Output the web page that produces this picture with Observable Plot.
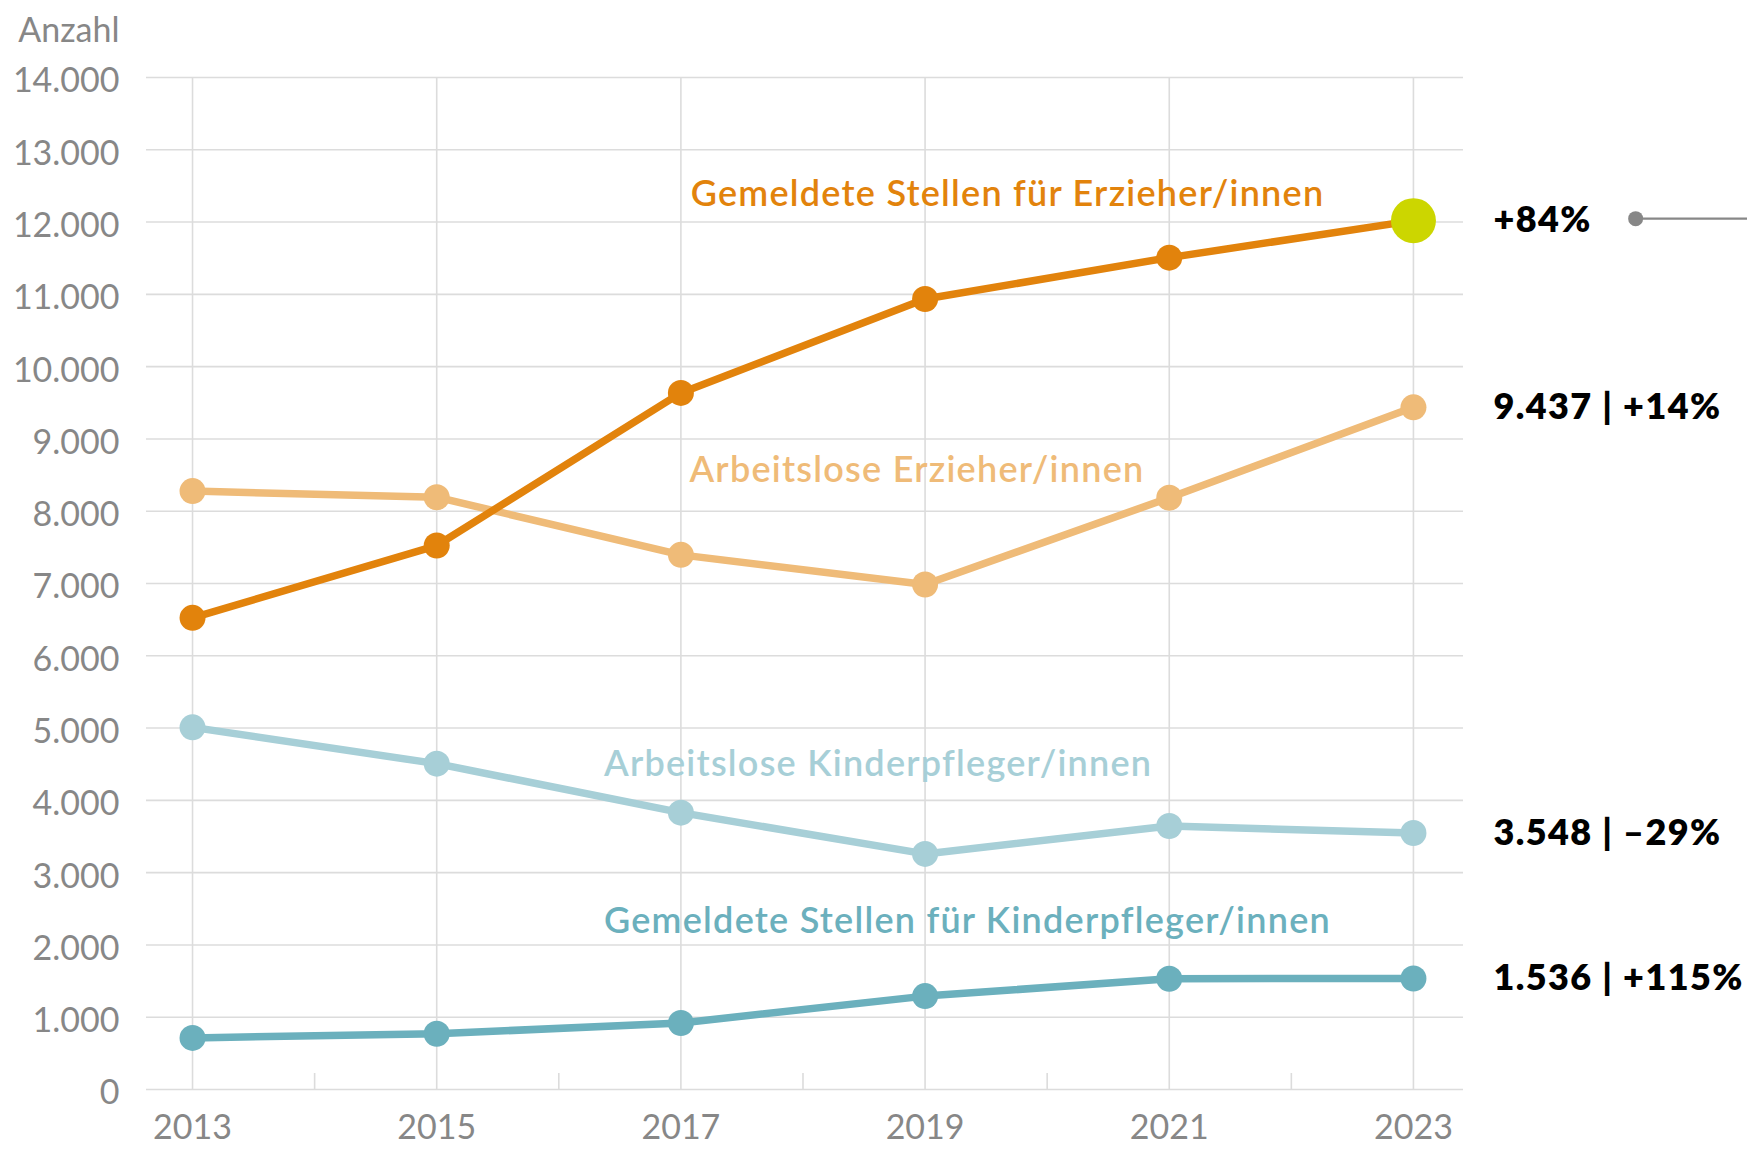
<!DOCTYPE html>
<html>
<head>
<meta charset="utf-8">
<script src="https://cdn.jsdelivr.net/npm/d3@7"></script>
<script src="https://cdn.jsdelivr.net/npm/@observablehq/plot@0.6"></script>
<style>
html, body { margin: 0; padding: 0; background: #fff; overflow: hidden; }
#chart svg { display: block; }
</style>
</head>
<body>
<div id="chart"></div>
<script>
// ---- Data ----
const years = [2013, 2015, 2017, 2019, 2021, 2023];
const stellenErzieher          = [6525, 7525, 9637, 10935, 11508, 12020];
const arbeitsloseErzieher      = [8278, 8194, 7396, 6986, 8186, 9437];
const arbeitsloseKinderpfleger = [5010, 4508, 3830, 3259, 3645, 3548];
const stellenKinderpfleger     = [714, 771, 920, 1292, 1533, 1536];

const seriesNames = [
  "Arbeitslose Erzieher/innen",
  "Arbeitslose Kinderpfleger/innen",
  "Gemeldete Stellen für Kinderpfleger/innen",
  "Gemeldete Stellen für Erzieher/innen"
];
const endLabels = ["9.437 | +14%", "3.548 | –29%", "1.536 | +115%", "+84%"];
// label anchors in data space (year, value)
const labelYear  = [2017.07, 2016.37, 2016.37, 2017.08];
const labelValue = [8570, 4499, 2327, 12384];

const yTicks = d3.range(0, 14001, 1000);
const xTicks = years;
const minorYears = [2014, 2016, 2018, 2020, 2022];
const yAxisLabel = "Anzahl";

// ---- Styles ----
const colors = ["#EFBB78", "#A7CFD7", "#6BB0BD", "#E2830C"];
const highlight = "#CCD600";
const grey = "#878787";
const gridColor = "#DCDCDC";
const font = "Lato, 'Source Sans Pro', sans-serif";

const values = [arbeitsloseErzieher, arbeitsloseKinderpfleger, stellenKinderpfleger, stellenErzieher];
const seriesData = values.map((vals, s) =>
  years.map((year, i) => ({ year, value: vals[i], series: seriesNames[s] }))
);

const fmt = d3.formatLocale({ decimal: ",", thousands: ".", grouping: [3], currency: ["", "€"] }).format(",d");

const marks = [];
// grid
marks.push(Plot.ruleY(yTicks, { stroke: gridColor, strokeWidth: 1.6 }));
marks.push(Plot.ruleX(xTicks, { stroke: gridColor, strokeWidth: 1.6 }));
marks.push(Plot.ruleX(minorYears, { y1: 0, y2: 0, insetTop: -16, stroke: gridColor, strokeWidth: 1.6 }));
// axes
marks.push(Plot.axisY(yTicks, {
  label: null, tickSize: 0, tickPadding: 27, tickFormat: fmt, color: grey,
  fontSize: 34, fontFamily: font, dy: 4
}));
marks.push(Plot.axisX(xTicks, {
  label: null, tickSize: 0, tickPadding: 25, tickFormat: d => String(d), color: grey,
  fontSize: 34, fontFamily: font
}));
marks.push(Plot.text([yAxisLabel], {
  frameAnchor: "top-left", text: d => d, textAnchor: "end", lineAnchor: "middle",
  dx: -27, dy: -46, fill: grey, fontSize: 34, fontFamily: font
}));
// lines and dots
seriesData.forEach((data, s) => {
  marks.push(Plot.line(data, { x: "year", y: "value", stroke: colors[s], strokeWidth: 7.5, strokeLinejoin: "round" }));
  marks.push(Plot.dot(data, { x: "year", y: "value", fill: colors[s], r: 13 }));
});
// highlight last point of Gemeldete Stellen für Erzieher/innen
marks.push(Plot.dot([{ year: years[years.length - 1], value: stellenErzieher[stellenErzieher.length - 1] }],
  { x: "year", y: "value", fill: highlight, r: 22.5 }));
// series labels
marks.push(Plot.text(seriesNames.map((name, i) => ({ name, year: labelYear[i], value: labelValue[i], color: colors[i] })), {
  x: "year", y: "value", text: "name", fill: d => d.color, textAnchor: "start", lineAnchor: "middle",
  fontSize: 36, fontWeight: 600, fontFamily: font
}));
// end labels
marks.push(Plot.text(endLabels.map((t, i) => ({ t, year: years[years.length - 1], value: values[i][values[i].length - 1] })), {
  x: "year", y: "value", text: "t", fill: "#000", textAnchor: "start", lineAnchor: "middle",
  dx: 80, fontSize: 36, fontWeight: 800, fontFamily: font
}));
// grey pointer
const pointerValue = stellenErzieher[stellenErzieher.length - 1];
marks.push(Plot.ruleY([pointerValue], { x1: 2024.82, x2: 2025.8, stroke: grey, strokeWidth: 2.2, dy: -2 }));
marks.push(Plot.dot([pointerValue], { x: () => 2024.82, y: d => d, fill: grey, r: 7.5, dy: -2 }));

const chart = Plot.plot({
  width: 1747,
  height: 1156,
  marginLeft: 146,
  marginRight: 284,
  marginTop: 77,
  marginBottom: 67,
  style: { fontFamily: font, fontSize: "34px", background: "#fff", overflow: "visible" },
  x: { type: "linear", domain: [2012.623, 2023.41] },
  y: { type: "linear", domain: [0, 14000] },
  marks
});
// letter spacing for the labels, as in the reference
d3.select(chart).selectAll("[font-weight]").each(function () {
  const el = d3.select(this);
  const fw = el.attr("font-weight");
  if (fw === "600") el.style("letter-spacing", "1.25px");
  if (fw === "800") el.style("letter-spacing", "1.4px");
});
document.getElementById("chart").appendChild(chart);
</script>
</body>
</html>
